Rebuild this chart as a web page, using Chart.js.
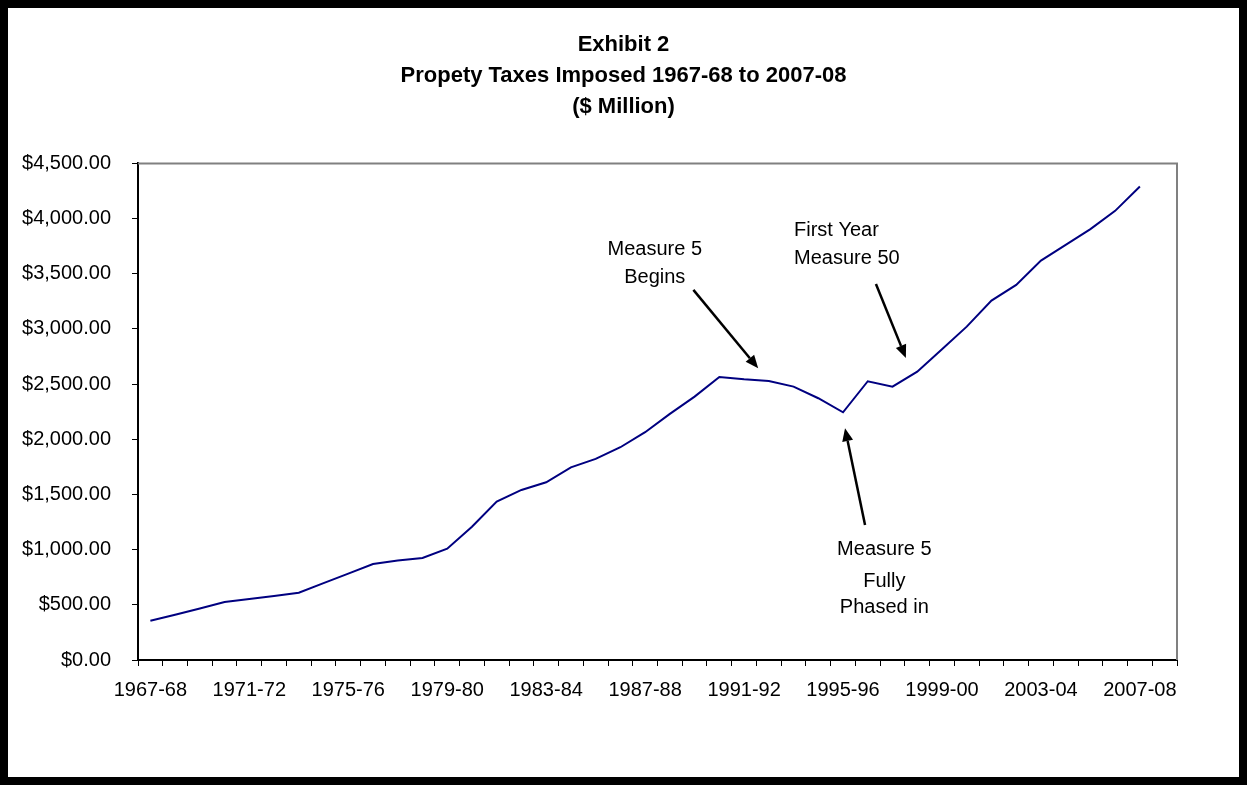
<!DOCTYPE html>
<html>
<head>
<meta charset="utf-8">
<script src="https://cdn.jsdelivr.net/npm/chart.js@4.4.1/dist/chart.umd.min.js"></script>
<style>
  html, body { margin: 0; padding: 0; background: #000; }
  #frame { position: absolute; left: 8px; top: 8px; width: 1231px; height: 769px; background: #fff; }
</style>
</head>
<body>
<div id="frame"><canvas id="chart"></canvas></div>
<script>
// fiscal years on the category axis (last one has no figure)
const years = [
  "1967-68", "1968-69", "1969-70", "1970-71", "1971-72", "1972-73", "1973-74",
  "1974-75", "1975-76", "1976-77", "1977-78", "1978-79", "1979-80", "1980-81",
  "1981-82", "1982-83", "1983-84", "1984-85", "1985-86", "1986-87", "1987-88",
  "1988-89", "1989-90", "1990-91", "1991-92", "1992-93", "1993-94", "1994-95",
  "1995-96", "1996-97", "1997-98", "1998-99", "1999-00", "2000-01", "2001-02",
  "2002-03", "2003-04", "2004-05", "2005-06", "2006-07", "2007-08", "2008-09"
];

// property taxes imposed, $ million
const taxes = [
  356, 410, 466, 526, 553, 580, 610, 697, 783, 870,
  902, 925, 1009, 1208, 1435, 1541, 1610, 1746, 1822, 1928,
  2064, 2230, 2387, 2565, 2544, 2529, 2477, 2372, 2245, 2526,
  2477, 2613, 2815, 3021, 3257, 3399, 3619, 3761, 3904, 4070,
  4290, null
];

const yTicks = [0, 500, 1000, 1500, 2000, 2500, 3000, 3500, 4000, 4500];

const titleLines = ["Exhibit 2", "Propety Taxes Imposed 1967-68 to 2007-08", "($ Million)"];

/**************************************
 *   CALLOUTS (category index, value)
 **************************************/
const notes = [
  { lines: ["Measure 5", "Begins"], x: 20.39, y: [3671, 3420], align: "center",
    arrow: { from: [21.95, 3354], to: [24.57, 2644] } },
  { lines: ["First Year", "Measure 50"], x: 26.02, y: [3843, 3589], align: "left",
    arrow: { from: [29.33, 3408], to: [30.54, 2737] } },
  { lines: ["Measure 5", "Fully", "Phased in"], x: 29.67, y: [952, 664, 423], align: "center",
    arrow: { from: [28.89, 1224], to: [28.08, 2100] } }
];

const FONT = "'Liberation Sans', Arial, sans-serif";

function drawArrow(ctx, x1, y1, x2, y2) {
  const ang = Math.atan2(y2 - y1, x2 - x1);
  const len = 13, half = 5.5;
  const bx = x2 - len * Math.cos(ang), by = y2 - len * Math.sin(ang);
  ctx.beginPath();
  ctx.moveTo(x1, y1);
  ctx.lineTo(bx, by);
  ctx.stroke();
  ctx.beginPath();
  ctx.moveTo(x2, y2);
  ctx.lineTo(bx + half * Math.sin(ang), by - half * Math.cos(ang));
  ctx.lineTo(bx - half * Math.sin(ang), by + half * Math.cos(ang));
  ctx.closePath();
  ctx.fill();
}

const plotFrame = {
  id: "plotFrame",
  beforeDatasetsDraw(chart) {
    const a = chart.chartArea, ctx = chart.ctx;
    ctx.save();
    ctx.strokeStyle = "#808080";
    ctx.lineWidth = 2;
    ctx.beginPath();
    ctx.moveTo(a.left, a.top);
    ctx.lineTo(a.right, a.top);
    ctx.lineTo(a.right, a.bottom);
    ctx.stroke();
    ctx.restore();
  }
};

const callouts = {
  id: "callouts",
  afterDatasetsDraw(chart) {
    const xs = chart.scales.x, ys = chart.scales.y, ctx = chart.ctx;
    ctx.save();
    ctx.fillStyle = "#000";
    ctx.strokeStyle = "#000";
    ctx.lineWidth = 2.5;
    ctx.font = "20px " + FONT;
    ctx.textBaseline = "alphabetic";
    notes.forEach(n => {
      ctx.textAlign = n.align;
      n.lines.forEach((t, i) => {
        ctx.fillText(t, xs.getPixelForValue(n.x), ys.getPixelForValue(n.y[i]));
      });
      drawArrow(ctx,
        xs.getPixelForValue(n.arrow.from[0]), ys.getPixelForValue(n.arrow.from[1]),
        xs.getPixelForValue(n.arrow.to[0]), ys.getPixelForValue(n.arrow.to[1]));
    });
    ctx.restore();
  }
};

/**************************************
 *              CHART
 **************************************/
new Chart(document.getElementById("chart"), {
  type: "line",
  data: {
    labels: years,
    datasets: [{
      data: taxes,
      borderColor: "#000080",
      borderWidth: 2,
      pointRadius: 0,
      tension: 0,
      fill: false
    }]
  },
  options: {
    responsive: true,
    maintainAspectRatio: false,
    animation: false,
    devicePixelRatio: 1,
    layout: { padding: { left: 0, right: 0, top: 0, bottom: 77 } },
    plugins: {
      legend: { display: false },
      tooltip: { enabled: false },
      title: {
        display: true,
        text: titleLines,
        color: "#000",
        font: { family: FONT, size: 22, weight: "bold", lineHeight: 1.4 },
        padding: { top: 22, bottom: 41 }
      }
    },
    scales: {
      x: {
        type: "category",
        offset: true,
        grid: { offset: true, drawOnChartArea: false, drawTicks: true, tickLength: 6, color: "#000", lineWidth: 1 },
        border: { color: "#000", width: 2 },
        ticks: {
          autoSkip: false,
          maxRotation: 0,
          padding: 12,
          color: "#000",
          font: { family: FONT, size: 20 },
          callback: function (val, idx) { return idx % 4 === 0 ? this.getLabelForValue(val) : ""; }
        },
        afterFit: s => { s.height = 40; }
      },
      y: {
        min: 0,
        max: 4500,
        afterBuildTicks: s => { s.ticks = yTicks.map(v => ({ value: v })); },
        grid: { drawOnChartArea: false, drawTicks: true, tickLength: 6, color: "#000", lineWidth: 1 },
        border: { color: "#000", width: 2 },
        ticks: {
          padding: 21,
          color: "#000",
          font: { family: FONT, size: 20 },
          callback: v => "$" + v.toLocaleString("en-US", { minimumFractionDigits: 2, maximumFractionDigits: 2 })
        },
        afterFit: s => { s.width = 130; }
      },
      yRight: {
        position: "right",
        display: true,
        grid: { display: false },
        border: { display: false },
        ticks: { display: false },
        afterFit: s => { s.width = 62; }
      }
    }
  },
  plugins: [plotFrame, callouts]
});
</script>
</body>
</html>
